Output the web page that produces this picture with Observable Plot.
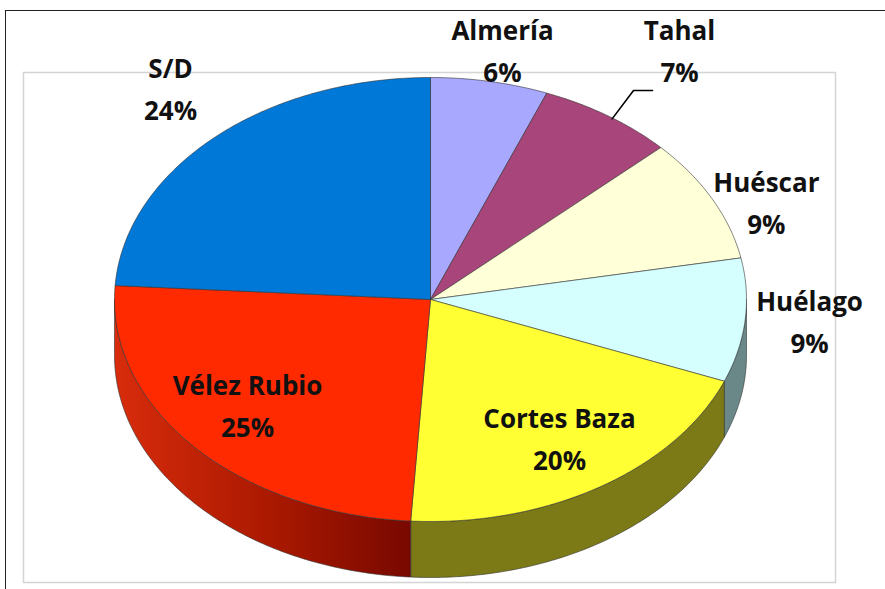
<!DOCTYPE html>
<html><head><meta charset="utf-8">
<script src="https://cdn.jsdelivr.net/npm/d3@7"></script>
<script src="https://cdn.jsdelivr.net/npm/@observablehq/plot@0.6"></script>
<style>
body{margin:0;background:#fff;}
#wrap{position:relative;width:885px;height:589px;overflow:hidden;}
#border{position:absolute;left:5px;top:10px;width:880px;height:579px;border-top:1.5px solid #222;border-left:1.5px solid #222;box-sizing:border-box;pointer-events:none;}
#chart{position:absolute;left:0;top:0;}
</style></head><body>
<div id="wrap"><div id="chart"></div><div id="border"></div></div>
<script>
// ---- data ----
const categories = ["Almería", "Tahal", "Huéscar", "Huélago", "Cortes Baza", "Vélez Rubio", "S/D"];
const shares = [6, 7, 9, 9, 20, 25, 24];
const percentLabels = ["6%", "7%", "9%", "9%", "20%", "25%", "24%"];
const topColors = ["#a8a8ff", "#a8457a", "#ffffd8", "#d5ffff", "#ffff33", "#ff2a00", "#0078d7"];
const sideColors = ["#6a6aa8", "#6a2a4c", "#a8a88a", "#6a8888", "#7b7a17", "url(#redGrad)", "#004c8c"];

// ---- layout ----
const W = 885, H = 589;
const cx = 430, cy = 299, rx = 316, ry = 222, depth = 56;
// label placement as radial factors (x, y) relative to slice mid-angle
const labelK = [[1.216, 1.137], [1.402, 1.351], [1.193, 0.952], [1.205, 1.10], [0.762, 0.747], [0.772, 0.729], [1.202, 1.298]];

const pt = (a, k = 1, dz = 0) => [cx + rx * k * Math.sin(a), cy - ry * k * Math.cos(a) + dz];

const arcs = d3.pie().sort(null).value(d => d)(shares);

const topFaces = [], sideFaces = [];
arcs.forEach((arc, i) => {
  const a0 = arc.startAngle, a1 = arc.endAngle;
  const n = Math.max(4, Math.ceil((a1 - a0) / 0.01));
  const face = [pt(0, 0)];
  for (let j = 0; j <= n; j++) face.push(pt(a0 + (a1 - a0) * j / n));
  face.push(pt(0, 0));
  topFaces.push(face.map(([x, y]) => ({x, y, i})));
  const s0 = Math.max(a0, Math.PI / 2), s1 = Math.min(a1, 3 * Math.PI / 2);
  if (s1 > s0) {
    const m = Math.max(4, Math.ceil((s1 - s0) / 0.01));
    const side = [];
    for (let j = 0; j <= m; j++) side.push(pt(s0 + (s1 - s0) * j / m));
    for (let j = m; j >= 0; j--) side.push(pt(s0 + (s1 - s0) * j / m, 1, depth));
    side.push(side[0]);
    sideFaces.push({i, pts: side.map(([x, y]) => ({x, y, i}))});
  }
});

const labels = arcs.map((arc, i) => {
  const mid = (arc.startAngle + arc.endAngle) / 2;
  const [kx, ky] = labelK[i];
  return {
    x: cx + rx * kx * Math.sin(mid),
    y: cy - ry * ky * Math.cos(mid),
    text: categories[i] + "\n" + percentLabels[i]
  };
});

// leader line for Tahal
const ti = 1;
const tmid = (arcs[ti].startAngle + arcs[ti].endAngle) / 2;
const ls = pt(tmid);
const lend = [labels[ti].x - 27, labels[ti].y + 39];
const leader = [{x: ls[0] + 4, y: ls[1] + 3}, {x: lend[0] - 19, y: lend[1]}, {x: lend[0], y: lend[1]}];

const marks = [Plot.frame({stroke: "#d4d4d4", strokeWidth: 1.5})];
sideFaces.forEach(s => marks.push(Plot.line(s.pts, {x: "x", y: "y", fill: sideColors[s.i], stroke: "#333", strokeWidth: 0.6, curve: "linear"})));
topFaces.forEach((f, i) => marks.push(Plot.line(f, {x: "x", y: "y", fill: topColors[i], stroke: "#333", strokeWidth: 0.6, strokeLinejoin: "round"})));
marks.push(Plot.line(leader, {x: "x", y: "y", stroke: "#000", strokeWidth: 1.6}));
marks.push(Plot.text(labels, {x: "x", y: "y", dy: -4, text: "text", fontSize: 26, fontWeight: "bold", fontFamily: "Open Sans", lineHeight: 1.6, fill: "#111"}));

const svg = Plot.plot({
  width: W, height: H,
  marginLeft: 23, marginRight: 50, marginTop: 72, marginBottom: 7,
  x: {domain: [23, 835], range: [23, 835], axis: null},
  y: {domain: [72, 582], range: [72, 582], axis: null},
  style: {background: "transparent", overflow: "visible"},
  marks
});

// gradient for the red side wall
const redSide = sideFaces.find(s => s.i === 5);
const xs = redSide.pts.map(d => d.x);
const defs = d3.select(svg).insert("defs", ":first-child");
const g = defs.append("linearGradient").attr("id", "redGrad").attr("gradientUnits", "userSpaceOnUse")
  .attr("x1", d3.min(xs)).attr("x2", d3.max(xs)).attr("y1", 0).attr("y2", 0);
g.append("stop").attr("offset", 0).attr("stop-color", "#d82c0c");
g.append("stop").attr("offset", 0.55).attr("stop-color", "#a81800");
g.append("stop").attr("offset", 1).attr("stop-color", "#780800");

document.getElementById("chart").appendChild(svg);
</script>
</body></html>
